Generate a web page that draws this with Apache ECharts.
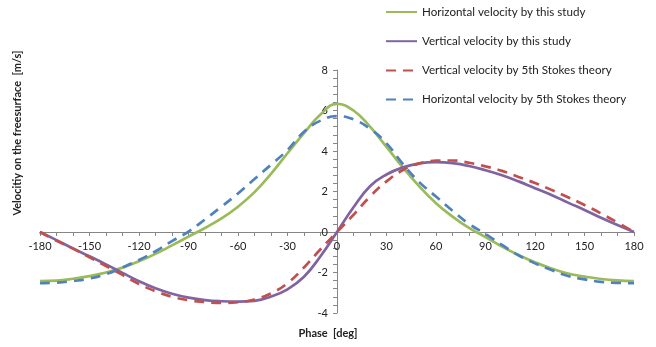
<!DOCTYPE html>
<html>
<head>
<meta charset="utf-8">
<script src="https://cdn.jsdelivr.net/npm/echarts@6/dist/echarts.min.js"></script>
<style>
  html, body { margin: 0; padding: 0; background: #fff; }
  #chart { width: 656px; height: 347px; }
</style>
</head>
<body>
<div id="chart"></div>
<script>
// phase in degrees, one point every 10 deg
const phase = [
  -180, -170, -160, -150, -140, -130, -120, -110, -100, -90, -80, -70, -60, -50, -40, -30, -20, -10,
  0, 10, 20, 30, 40, 50, 60, 70, 80, 90, 100, 110, 120, 130, 140, 150, 160, 170, 180
]

const horizThisStudy = [
  -2.42, -2.40, -2.31, -2.18, -2.00, -1.76, -1.45, -1.08, -0.66, -0.23, 0.20, 0.67, 1.25, 1.97, 2.87, 3.89, 4.88, 5.80,
  6.33, 6.00, 5.20, 4.20, 3.18, 2.24, 1.42, 0.76, 0.20, -0.25, -0.72, -1.14, -1.50, -1.80, -2.05, -2.20, -2.32, -2.39, -2.42
]

const vertThisStudy = [
  0, -0.40, -0.81, -1.20, -1.60, -2.02, -2.43, -2.78, -3.05, -3.24, -3.36, -3.42, -3.44, -3.40, -3.19, -2.83, -2.21, -1.20,
  0, 1.22, 2.26, 2.84, 3.19, 3.39, 3.45, 3.40, 3.26, 3.05, 2.80, 2.50, 2.16, 1.83, 1.45, 1.09, 0.70, 0.35, 0
]

const vertStokes = [
  0, -0.43, -0.82, -1.25, -1.68, -2.12, -2.57, -2.92, -3.20, -3.37, -3.46, -3.50, -3.47, -3.33, -3.03, -2.53, -1.75, -0.85,
  0, 0.85, 1.75, 2.50, 3.06, 3.39, 3.52, 3.53, 3.42, 3.24, 3.02, 2.72, 2.42, 2.08, 1.72, 1.33, 0.92, 0.47, 0
]

const horizStokes = [
  -2.53, -2.50, -2.42, -2.30, -2.08, -1.75, -1.38, -0.95, -0.45, 0.02, 0.62, 1.25, 1.90, 2.62, 3.32, 4.05, 4.95, 5.50,
  5.72, 5.56, 5.10, 4.38, 3.35, 2.45, 1.75, 1.05, 0.40, -0.10, -0.64, -1.15, -1.55, -1.88, -2.17, -2.34, -2.46, -2.51, -2.53
]

const seriesNames = [
  'Horizontal velocity by this study',
  'Vertical velocity by this study',
  'Vertical velocity by 5th Stokes theory',
  'Horizontal velocity by 5th Stokes theory'
]

const FONT = 'Lato'
const AXIS_GREY = '#868686'
const TEXT = '#222'

// plot box in px, axes cross at (0, 0)
const GRID = { left: 40, right: 22, top: 70, bottom: 34 }
const W = 656, H = 347
const plotW = W - GRID.left - GRID.right
const plotH = H - GRID.top - GRID.bottom
const zeroXOffset = -plotW * (0 - -180) / 360
const zeroYOffset = -plotH * (0 - -4) / 12

const pairs = (ys) => phase.map((x, i) => [x, ys[i]])

const makeLine = (name, ys, color, dashed) => ({
  name,
  type: 'line',
  data: pairs(ys),
  smooth: 0.45,
  symbol: 'none',
  lineStyle: { color, width: 2.7, type: dashed ? [10, 7] : 'solid' },
  itemStyle: { color },
  z: dashed ? 3 : 2
})

const chart = echarts.init(document.getElementById('chart'), null, { renderer: 'canvas' })

chart.setOption({
  animation: false,
  textStyle: { fontFamily: FONT },
  grid: { ...GRID, containLabel: false },
  legend: {
    orient: 'vertical',
    left: 380,
    top: 1,
    itemWidth: 31,
    itemHeight: 14,
    itemGap: 17.2,
    itemStyle: { opacity: 0 },
    textStyle: { fontFamily: FONT, fontSize: 11.6, color: TEXT },
    data: seriesNames
  },
  xAxis: {
    type: 'value',
    position: 'bottom',
    offset: zeroYOffset,
    min: -180,
    max: 180,
    interval: 30,
    axisLine: { onZero: false, lineStyle: { color: AXIS_GREY, width: 1 } },
    axisTick: { length: 4, lineStyle: { color: AXIS_GREY } },
    minorTick: { show: true, splitNumber: 3, length: 4, lineStyle: { color: AXIS_GREY } },
    splitLine: { show: false },
    axisLabel: { fontFamily: FONT, fontSize: 11, color: TEXT, margin: 9 }
  },
  yAxis: {
    type: 'value',
    position: 'left',
    offset: zeroXOffset,
    min: -4,
    max: 8,
    interval: 2,
    axisLine: { onZero: false, lineStyle: { color: AXIS_GREY, width: 1 } },
    axisTick: { length: 4, lineStyle: { color: AXIS_GREY } },
    minorTick: { show: true, splitNumber: 5, length: 4, lineStyle: { color: AXIS_GREY } },
    splitLine: { show: false },
    axisLabel: { fontFamily: FONT, fontSize: 11, color: TEXT, margin: 9 }
  },
  graphic: [
    {
      type: 'text',
      x: 17,
      y: 133,
      rotation: Math.PI / 2,
      style: {
        text: 'Velocitiy on the freesurface  [m/s]',
        fontFamily: FONT,
        fontSize: 11,
        fontWeight: 'bold',
        fill: TEXT,
        align: 'center',
        verticalAlign: 'middle'
      }
    },
    {
      type: 'text',
      x: 328,
      y: 333,
      style: {
        text: 'Phase  [deg]',
        fontFamily: FONT,
        fontSize: 11,
        fontWeight: 'bold',
        fill: TEXT,
        align: 'center',
        verticalAlign: 'middle'
      }
    }
  ],
  series: [
    makeLine(seriesNames[0], horizThisStudy, '#9BBB59', false),
    makeLine(seriesNames[1], vertThisStudy, '#8064A2', false),
    makeLine(seriesNames[2], vertStokes, '#C0504D', true),
    makeLine(seriesNames[3], horizStokes, '#4F81BD', true)
  ]
})
</script>
</body>
</html>
